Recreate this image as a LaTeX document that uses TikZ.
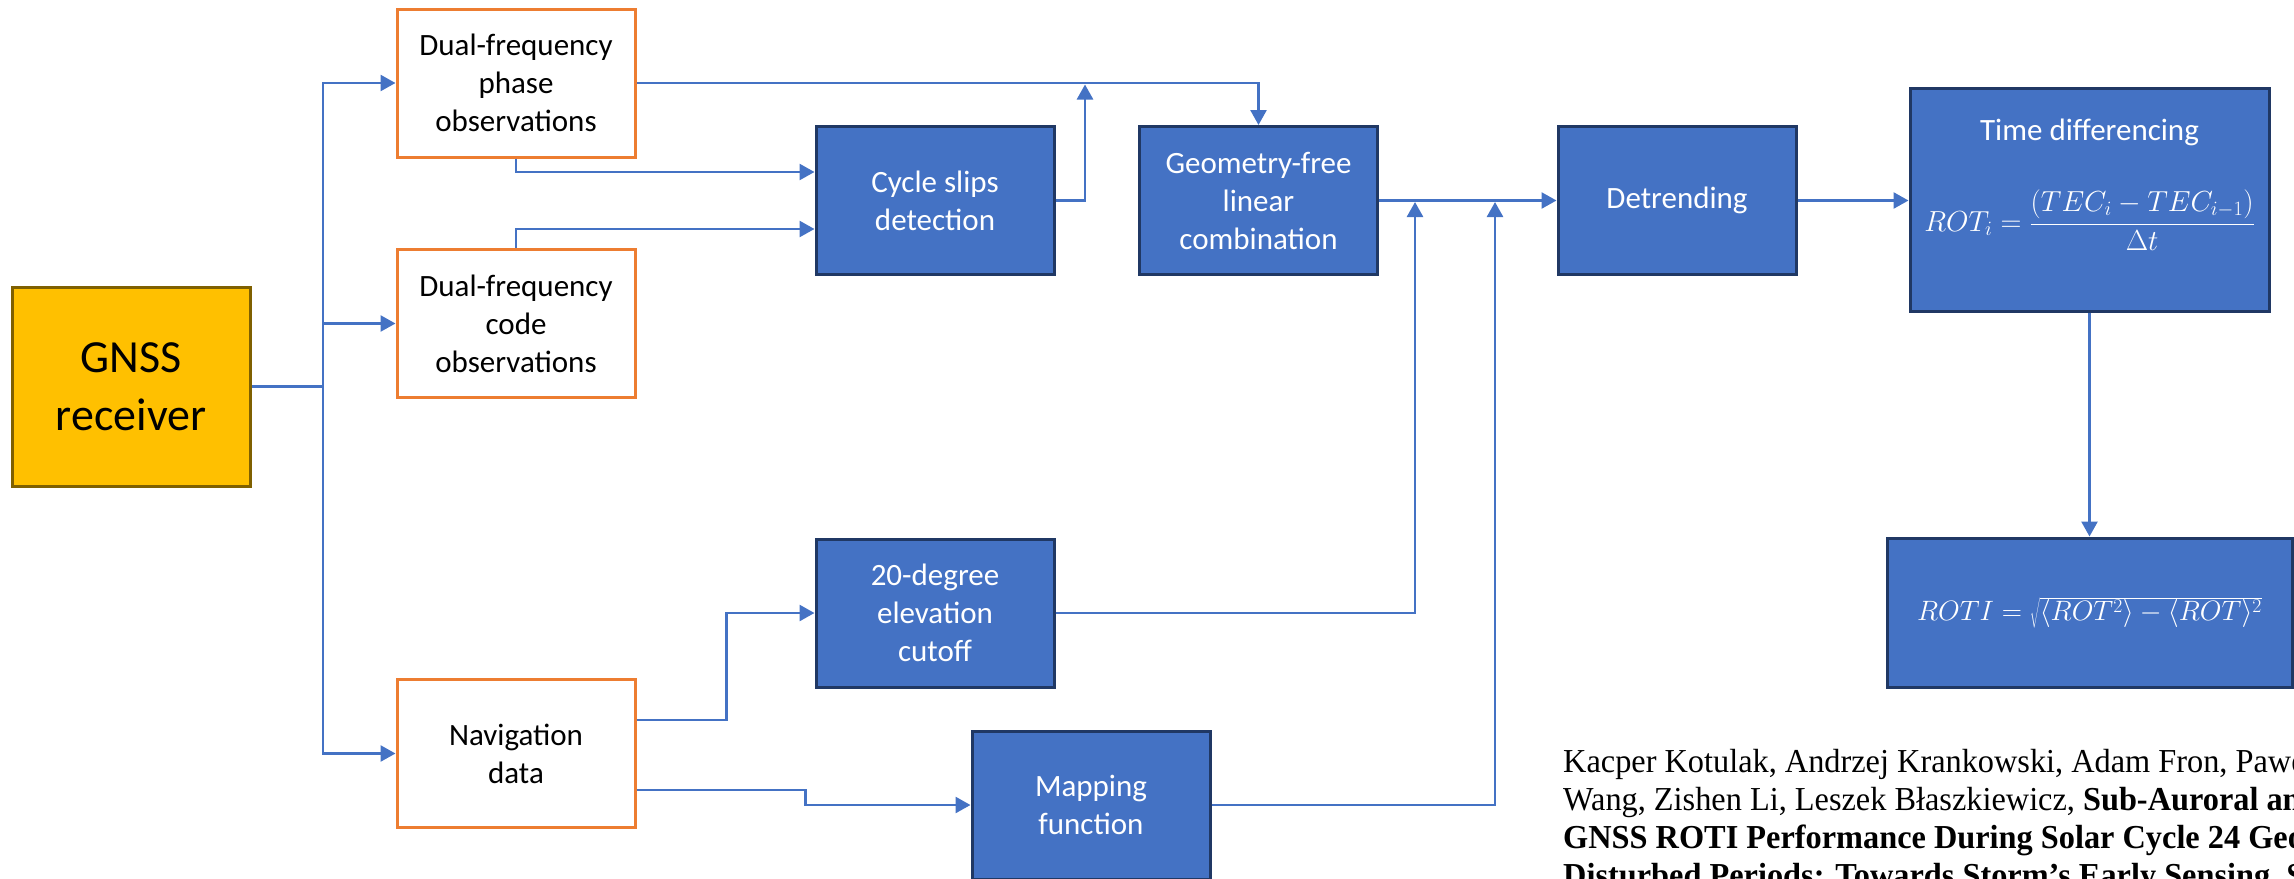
\RequirePackage{fix-cm}
\documentclass[tikz,border=0pt]{standalone}
\usepackage{fontspec}
\setmainfont{Carlito}
\newfontfamily\citefont[FakeStretch=0.965]{Liberation Serif}
\usetikzlibrary{arrows.meta,calc}

\definecolor{boxblue}{HTML}{4472C4}
\definecolor{boxedge}{HTML}{203864}
\definecolor{srcedge}{HTML}{ED7D31}
\definecolor{rxfill}{HTML}{FFC000}
\definecolor{rxedge}{HTML}{7F6000}

\newcommand\boxlabelfont{\fontsize{31}{38}\selectfont}

\tikzset{
  basebox/.style={line width=3pt, minimum width=238pt, minimum height=148pt,
    inner sep=0pt, align=center, font=\boxlabelfont},
  bluebox/.style={basebox, draw=boxedge, fill=boxblue, text=white},
  srcbox/.style={basebox, draw=srcedge, fill=white, text=black},
  rxbox/.style={basebox, draw=rxedge, fill=rxfill, text=black,
    minimum height=199pt, font=\fontsize{46}{58}\selectfont},
  link/.style={draw=boxblue, line width=2.6pt},
  flow/.style={link, -{Triangle[length=15pt,width=16pt]}},
  citeline/.style={anchor=base west, inner sep=0pt, text=black,
    font=\citefont\fontsize{33.5}{38}\selectfont},
}

\begin{document}
\begin{tikzpicture}[x=1pt,y=-1pt]
\useasboundingbox (0,0) rectangle (2294,878);
\clip (0,0) rectangle (2294,878);

% receiver and raw observables
\node[rxbox] (gnss) at (131,386.5) {GNSS\\receiver};
\node[srcbox] (phase) at (516,83) {Dual-frequency\\phase\\observations};
\node[srcbox] (code) at (516,323.5) {Dual-frequency\\code\\observations};
\node[srcbox] (nav) at (516,753.5) {Navigation\\data};

% processing steps
\node[bluebox] (cycle) at (935,200.5) {Cycle slips\\detection};
\node[bluebox] (elev) at (935,613) {20-degree\\elevation\\cutoff};
\node[bluebox] (mapf) at (1091,805) {Mapping\\function};
\node[bluebox] (geom) at (1258.5,200.5) {Geometry-free\\linear\\combination};
\node[bluebox] (detr) at (1677,200.5) {Detrending};

% rate of TEC
\node[bluebox, minimum width=359pt, minimum height=223pt] (timed) at (2089.5,199.5) {};
\node[text=white, font=\boxlabelfont, inner sep=0pt] (timedtitle) at (2089.5,132) {Time differencing};
\node[text=white, anchor=base, inner sep=0pt, font=\fontsize{29}{35}\selectfont] (rotformula) at (2089.5,231)
  {$\displaystyle ROT_i=\frac{(TEC_i-TEC_{i-1})}{\Delta t}$};

% ROT index
\node[bluebox, minimum width=405pt, minimum height=149pt, font=\fontsize{28}{34}\selectfont] (roti) at (2089.5,612.5)
  {$ROTI=\sqrt{\langle ROT^2\rangle-\langle ROT\rangle^2}$};

% connectors
\coordinate (split) at (323,386.5);
\draw[link] (gnss.east) -- (split);
\draw[flow] (split) |- (phase.west);
\draw[flow] (split) |- (code.west);
\draw[flow] (split) |- (nav.west);

\draw[flow] (phase.south) |- ([yshift=28.5pt]cycle.west);
\draw[flow] (code.north) |- ([yshift=-28.5pt]cycle.west);

\coordinate (mergetop) at (1085,84.5);
\draw[flow] (cycle.east) -| (mergetop);
\draw[flow] (phase.east) -| (geom.north);

\draw[flow] (geom.east) -- (detr.west);
\coordinate (mergeelev) at (1415,202);
\coordinate (mergemap) at (1495,202);
\draw[flow] (elev.east) -| (mergeelev);
\draw[flow] (mapf.east) -| (mergemap);

\draw[flow] ([yshift=33.5pt]nav.east) -- ++(90,0) |- (elev.west);
\draw[flow] ([yshift=-36.5pt]nav.east) -- ++(169,0) |- (mapf.west);

\draw[flow] (detr.east) -- (detr.east -| timed.west);
\draw[flow] (timed.south) -- (roti.north);

% reference
\node[citeline] (cite1) at (1563,772) {Kacper Kotulak, Andrzej Krankowski, Adam Fron, Paweł Flisek, Ningbo};
\node[citeline] (cite2) at (1563,810) {Wang, Zishen Li, Leszek Błaszkiewicz, \textbf{Sub-Auroral and Mid-Latitude}};
\node[citeline] (cite3) at (1563,848) {\textbf{GNSS ROTI Performance During Solar Cycle 24 Geomagnetic}};
\node[citeline] (cite4) at (1563,886) {\textbf{Disturbed Periods: Towards Storm’s Early Sensing, Sensors}};
\end{tikzpicture}
\end{document}
